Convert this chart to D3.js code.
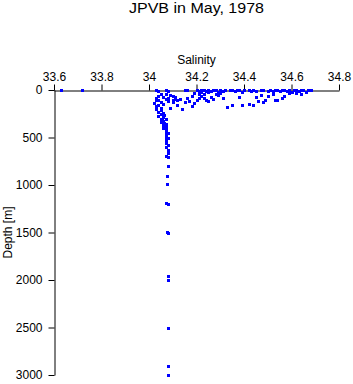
<!DOCTYPE html>
<html lang="en">
<head>
<meta charset="UTF-8">
<title>JPVB in May, 1978</title>
<style>
    body { margin: 0; padding: 0; background: #fff; }
    svg { display: block; }
    text { font-family: "Liberation Sans", Arial, sans-serif; fill: #000; }
</style>
</head>
<body>
<svg width="353" height="384"></svg>
<script src="https://d3js.org/d3.v7.min.js"></script>
<script>
    // Salinity / depth samples as [salinity, depth m]
    const surface = [
        [33.63, 0], [33.72, 0], [34.03, 0], [34.04, 10], [34.07, 0], [34.08, 15],
        [34.15, 0], [34.16, 5], [34.20, 0], [34.21, 10], [34.22, 0], [34.22, 20],
        [34.23, 5], [34.24, 15], [34.25, 0], [34.25, 25], [34.26, 10], [34.27, 0],
        [34.28, 5], [34.29, 20], [34.30, 0], [34.31, 10], [34.32, 0], [34.34, 5],
        [34.35, 0], [34.36, 10], [34.37, 0], [34.38, 5], [34.39, 20], [34.40, 0],
        [34.42, 5], [34.44, 0], [34.45, 10], [34.47, 5], [34.48, 0], [34.50, 10],
        [34.51, 0], [34.53, 5], [34.54, 0], [34.55, 15], [34.57, 0], [34.58, 10],
        [34.59, 0], [34.60, 20], [34.61, 5], [34.62, 0], [34.63, 15], [34.64, 5],
        [34.65, 0], [34.67, 5], [34.68, 0], [34.56, 5], [34.52, 15], [34.43, 15]
    ];

    const upper = [
        [34.05, 40], [34.04, 60], [34.03, 80], [34.03, 110], [34.02, 140], [34.04, 160],
        [34.06, 70], [34.07, 90], [34.08, 120], [34.09, 50], [34.10, 65], [34.11, 90],
        [34.10, 130], [34.12, 110], [34.09, 190], [34.12, 160], [34.14, 200], [34.16, 80],
        [34.17, 115], [34.18, 60], [34.19, 140], [34.18, 170], [34.20, 100], [34.21, 40],
        [34.22, 60], [34.23, 80], [34.24, 100], [34.25, 120], [34.26, 75], [34.27, 90],
        [34.28, 40], [34.29, 55], [34.30, 30], [34.31, 85], [34.33, 180], [34.35, 155],
        [34.38, 75], [34.39, 160], [34.42, 150], [34.44, 160], [34.45, 75], [34.46, 120],
        [34.47, 50], [34.48, 130], [34.49, 110], [34.50, 60], [34.52, 40], [34.53, 100],
        [34.54, 110], [34.56, 80], [34.57, 60], [34.59, 35], [34.62, 30], [34.64, 40],
        [34.66, 25], [34.04, 100], [34.05, 130], [34.06, 150], [34.03, 170], [34.08, 80],
        [34.11, 70], [34.13, 95], [34.15, 125], [34.21, 85], [34.23, 45], [34.19, 30],
        [34.07, 45], [34.05, 185], [34.10, 105]
    ];

    const stem = [
        [34.03, 200], [34.05, 215], [34.04, 230], [34.06, 240], [34.05, 255], [34.04, 270],
        [34.06, 280], [34.05, 300], [34.07, 310], [34.06, 325], [34.05, 340], [34.07, 355],
        [34.06, 370], [34.07, 385], [34.06, 400], [34.07, 420], [34.07, 440], [34.08, 455],
        [34.07, 470], [34.07, 490], [34.08, 510], [34.07, 530], [34.07, 560], [34.08, 580],
        [34.07, 600], [34.08, 630], [34.08, 660], [34.07, 690], [34.08, 710], [34.065, 260],
        [34.055, 320], [34.065, 345]
    ];

    const deep = [
        [34.08, 800], [34.075, 905], [34.075, 990], [34.07, 1190], [34.08, 1200],
        [34.075, 1490], [34.078, 1500], [34.078, 1960], [34.078, 2000], [34.078, 2500],
        [34.078, 2900], [34.078, 3000]
    ];

    const salTicks = [33.6, 33.8, 34, 34.2, 34.4, 34.6, 34.8];
    const depthTicks = [0, 500, 1000, 1500, 2000, 2500, 3000];

    const samples = surface.concat(upper, stem, deep);

    const svg = d3.select("svg");
    const plotLeft = 54, plotRight = 339, plotTop = 90, plotBottom = 375;

    const x = d3.scaleLinear().domain([33.6, 34.8]).range([plotLeft, plotRight]);
    const y = d3.scaleLinear().domain([0, 3000]).range([plotTop, plotBottom]);

    // Title
    svg.append("text")
        .attr("x", (plotLeft + plotRight) / 2)
        .attr("y", 13)
        .attr("text-anchor", "middle")
        .attr("font-size", 15)
        .attr("textLength", 135)
        .attr("lengthAdjust", "spacingAndGlyphs")
        .text("JPVB in May, 1978");

    // Salinity axis on top
    const xAxis = svg.append("g")
        .attr("transform", `translate(0,${plotTop + 0.5})`)
        .call(d3.axisTop(x).tickValues(salTicks).tickSize(6).tickSizeOuter(0).tickPadding(4)
            .tickFormat(d3.format("")));
    xAxis.selectAll("text").attr("font-size", 12).attr("font-family", null);

    svg.append("text")
        .attr("x", (plotLeft + plotRight) / 2)
        .attr("y", 64)
        .attr("text-anchor", "middle")
        .attr("font-size", 12)
        .text("Salinity");

    // Depth axis on left
    const yAxis = svg.append("g")
        .attr("transform", `translate(${plotLeft + 0.5},0)`)
        .call(d3.axisLeft(y).tickValues(depthTicks).tickSize(6).tickSizeOuter(0).tickPadding(6)
            .tickFormat(d3.format("d")));
    yAxis.selectAll("text").attr("font-size", 12).attr("font-family", null);

    svg.append("text")
        .attr("transform", `translate(12,${(plotTop + plotBottom) / 2}) rotate(-90)`)
        .attr("text-anchor", "middle")
        .attr("font-size", 12)
        .text("Depth [m]");

    // Samples
    svg.append("g")
        .selectAll("rect")
        .data(samples)
        .join("rect")
        .attr("x", d => Math.round(x(d[0])) - 1)
        .attr("y", d => Math.round(y(d[1])) - 1)
        .attr("width", 3)
        .attr("height", 3)
        .attr("fill", "#0000ff");
</script>
</body>
</html>
